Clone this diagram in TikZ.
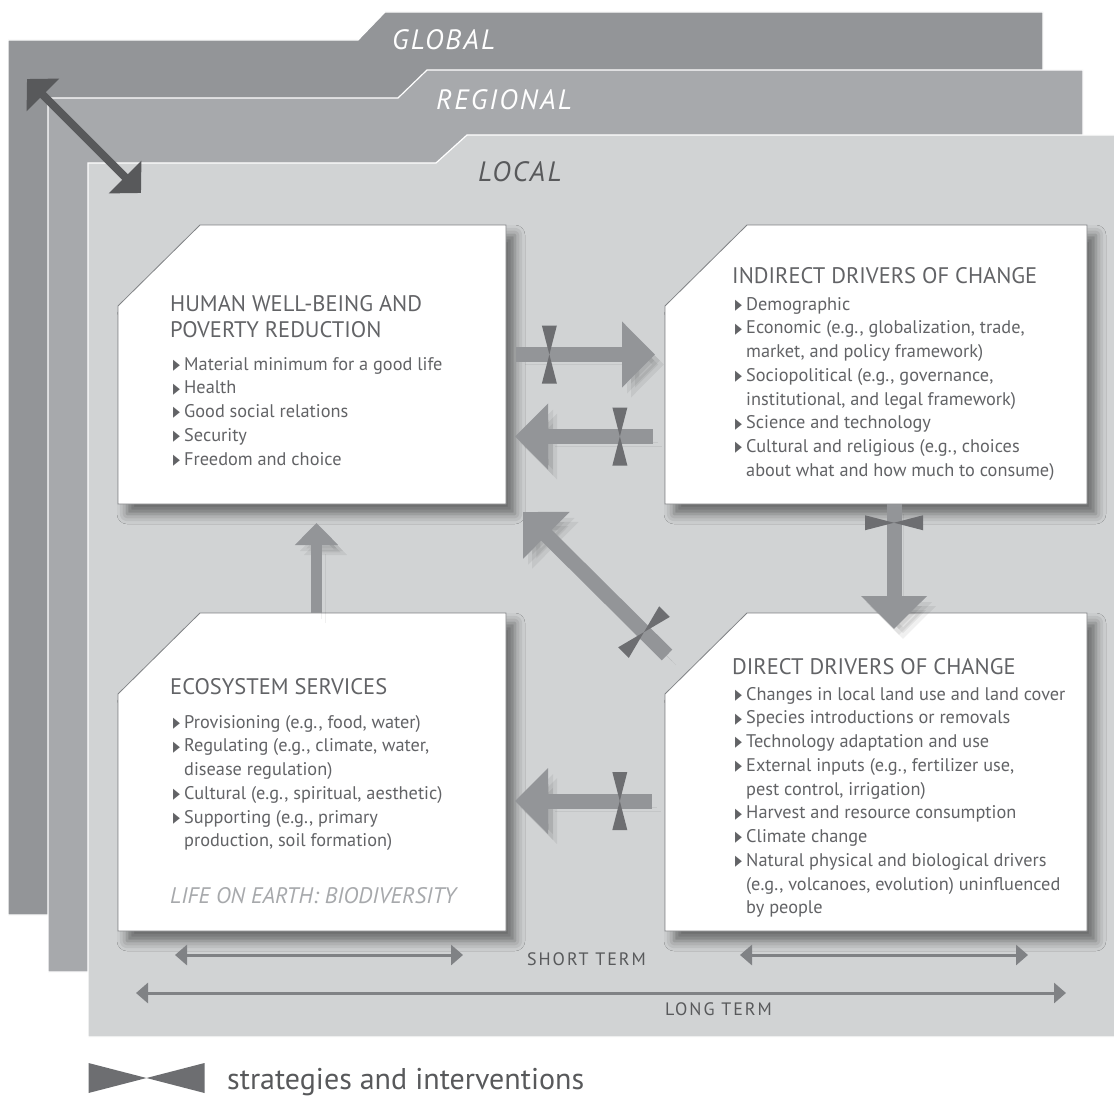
\documentclass[tikz,border=0pt]{standalone}
\usepackage{fontspec}
\setmainfont{PT Sans}
\newfontfamily\symfont{DejaVu Sans}
\usetikzlibrary{calc,arrows.meta,shadows.blur}
\definecolor{globalgray}{HTML}{939598}
\definecolor{regiongray}{HTML}{A7A9AC}
\definecolor{localgray}{HTML}{D1D3D4}
\definecolor{darkgray}{HTML}{58595B}
\definecolor{textgray}{HTML}{626366}
\definecolor{tiegray}{HTML}{6D6E71}
\definecolor{arrowgray}{HTML}{939598}
\definecolor{framegray}{HTML}{808285}
\definecolor{lifegray}{HTML}{A7A9AC}
\newcommand{\bul}{\makebox[11pt][l]{\raisebox{0.6pt}{\scalebox{0.62}[1]{\symfont\fontsize{14.5}{14.5}\selectfont\char"25B6}}}}
\newcommand{\bitem}[1]{\par\hangindent=11pt\hangafter=1\noindent\bul#1}
\newcommand{\itemlist}[1]{\parbox[t]{400pt}{\raggedright#1}}
\newcommand{\chamferbox}[1]{%
  \fill[boxframe] ($(#1.north west)+(0,81)$) -- ($(#1.north west)+(82,0)$)
    -- (#1.north east) -- (#1.south east) -- (#1.south west) -- cycle;}
\tikzset{
  layer/.style={draw=white, line width=1.2pt},
  boxarea/.style={inner sep=0pt, outer sep=0pt, anchor=north west},
  boxframe/.style={fill=white, draw=framegray, line width=0.8pt,
    blur shadow={shadow xshift=9pt, shadow yshift=-10pt, shadow blur radius=10pt, shadow opacity=50}},
  titletext/.style={inner sep=0pt, anchor=base west, text=textgray,
    font=\fontsize{22.5}{26}\selectfont},
  listtext/.style={inner sep=0pt, anchor=base west, text=textgray,
    font=\fontsize{18.3}{23.75}\selectfont},
  scaletext/.style={inner sep=0pt, anchor=base west,
    font=\itshape\fontsize{28}{28}\selectfont\addfontfeatures{LetterSpace=8}},
  termtext/.style={inner sep=0pt, anchor=base, text=darkgray,
    font=\fontsize{18}{18}\selectfont\addfontfeatures{LetterSpace=11}},
  arrowshade/.style={preaction={draw=black, opacity=0.06, transform canvas={shift={(5pt,-6pt)}}},
    preaction={draw=black, opacity=0.06, transform canvas={shift={(9pt,-10pt)}}}},
  blockarrow/.style={line width=15pt, draw=arrowgray, -{Triangle[length=33pt,width=64pt]}, arrowshade},
  smallarrow/.style={line width=11pt, draw=arrowgray, -{Triangle[length=22pt,width=42pt]}, arrowshade},
  scalearrow/.style={line width=8pt, draw=darkgray,
    {Triangle[length=22.6pt,width=45pt]}-{Triangle[length=22.6pt,width=45pt]}},
  termarrow/.style={line width=3pt, draw=framegray,
    {Triangle[length=12pt,width=20pt]}-{Triangle[length=12pt,width=20pt]}},
  bowtie/.pic={
    \fill[tiegray] (-7.5,-29) -- (7.5,-29) -- (0,0) -- cycle
                   (-7.5,29) -- (7.5,29) -- (0,0) -- cycle;
  }
}
\begin{document}
\begin{tikzpicture}[x=1pt,y=-1pt]
  \useasboundingbox (0,0) rectangle (1114,1097);

  % scales
  \fill[globalgray, layer] (8,40) -- (358,40) -- (385,12) -- (1043,12) -- (1043,915) -- (8,915) -- cycle;
  \fill[regiongray, layer] (48,98) -- (398,98) -- (427,70) -- (1083,70) -- (1083,972) -- (48,972) -- cycle;
  \fill[localgray, layer] (88,163) -- (436,163) -- (467,135) -- (1118,135) -- (1118,1037) -- (88,1037) -- cycle;
  \node[scaletext, text=white] (global) at (392,50) {GLOBAL};
  \node[scaletext, text=white] (regional) at (436,110) {REGIONAL};
  \node[scaletext, text=darkgray] (local) at (478,182) {LOCAL};

  \coordinate (sc1) at (27,79);
  \coordinate (sc2) at (141,193);
  \draw[scalearrow] (sc1) -- (sc2);

  % boxes
  \node[boxarea, minimum width=388pt, minimum height=279pt] (hwb) at (118,225) {};
  \node[boxarea, minimum width=422pt, minimum height=279pt] (idc) at (665,225) {};
  \node[boxarea, minimum width=388pt, minimum height=318pt] (eco) at (118,613) {};
  \node[boxarea, minimum width=422pt, minimum height=318pt] (ddc) at (665,613) {};
  \chamferbox{hwb}
  \chamferbox{idc}
  \chamferbox{eco}
  \chamferbox{ddc}

  \node[titletext] (hwbtitle) at (170,311) {\parbox[t]{320pt}{HUMAN WELL-BEING AND\\POVERTY REDUCTION}};
  \node[listtext] (hwblist) at (173,370) {\itemlist{%
    \bitem{Material minimum for a good life}
    \bitem{Health}
    \bitem{Good social relations}
    \bitem{Security}
    \bitem{Freedom and choice}}};

  \node[titletext] (idctitle) at (732,283) {INDIRECT DRIVERS OF CHANGE};
  \node[listtext] (idclist) at (735,310) {\itemlist{%
    \bitem{Demographic}
    \bitem{Economic (e.g., globalization, trade,\newline market, and policy framework)}
    \bitem{Sociopolitical (e.g., governance,\newline institutional, and legal framework)}
    \bitem{Science and technology}
    \bitem{Cultural and religious (e.g., choices\newline about what and how much to consume)}}};

  \node[titletext] (ecotitle) at (170,694) {ECOSYSTEM SERVICES};
  \node[listtext] (ecolist) at (173,728) {\itemlist{%
    \bitem{Provisioning (e.g., food, water)}
    \bitem{Regulating (e.g., climate, water,\newline disease regulation)}
    \bitem{Cultural (e.g., spiritual, aesthetic)}
    \bitem{Supporting (e.g., primary\newline production, soil formation)}}};
  \node[titletext, text=lifegray, font=\itshape\fontsize{22.5}{22.5}\selectfont] (life) at (170,903)
    {LIFE ON EARTH: BIODIVERSITY};

  \node[titletext] (ddctitle) at (732,674) {DIRECT DRIVERS OF CHANGE};
  \node[listtext] (ddclist) at (735,700) {\itemlist{%
    \bitem{Changes in local land use and land cover}
    \bitem{Species introductions or removals}
    \bitem{Technology adaptation and use}
    \bitem{External inputs (e.g., fertilizer use,\newline pest control, irrigation)}
    \bitem{Harvest and resource consumption}
    \bitem{Climate change}
    \bitem{Natural physical and biological drivers\newline (e.g., volcanoes, evolution) uninfluenced\newline by people}}};

  % links between boxes
  \draw[blockarrow] ($(hwb.east)+(10,-10)$) -- coordinate[pos=0.24] (t1) ($(idc.west)+(-10,-10)$);
  \draw[blockarrow] ($(idc.west)+(-12,72)$) -- coordinate[pos=0.24] (t2) ($(hwb.east)+(9,72)$);
  \draw[blockarrow] ($(idc.south)+(18,0)$) -- coordinate[pos=0.15] (t3) ($(ddc.north)+(18,16)$);
  \draw[blockarrow] ($(ddc.north west)+(2,42)$) -- coordinate[pos=0.16] (t4) ($(hwb.south east)+(17,8)$);
  \draw[blockarrow] ($(ddc.west)+(-13,29)$) -- coordinate[pos=0.235] (t5) ($(eco.east)+(9,29)$);
  \draw[smallarrow] ($(eco.north)+(4.5,0)$) -- ($(hwb.south)+(4.5,19)$);

  \pic at (t1) {bowtie};
  \pic at (t2) {bowtie};
  \pic[rotate=90] at (t3) {bowtie};
  \pic[rotate=-45] at (t4) {bowtie};
  \pic at (t5) {bowtie};

  % time scales
  \coordinate (st1) at (175,955);
  \coordinate (st2) at (463,955);
  \coordinate (st3) at (740,955);
  \coordinate (st4) at (1028,955);
  \coordinate (lt1) at (136,993);
  \coordinate (lt2) at (1066,993);
  \draw[termarrow] (st1) -- (st2);
  \draw[termarrow] (st3) -- (st4);
  \draw[termarrow] (lt1) -- (lt2);
  \node[termtext] (short) at (586.5,965) {SHORT TERM};
  \node[termtext] (long) at (718.5,1015) {LONG TERM};

  % legend
  \pic[rotate=90, scale=2] at (146.5,1078) {bowtie};
  \node[inner sep=0pt, anchor=base west, text=darkgray, font=\fontsize{30}{30}\selectfont] (legend)
    at (227,1089) {strategies and interventions};
\end{tikzpicture}
\end{document}
